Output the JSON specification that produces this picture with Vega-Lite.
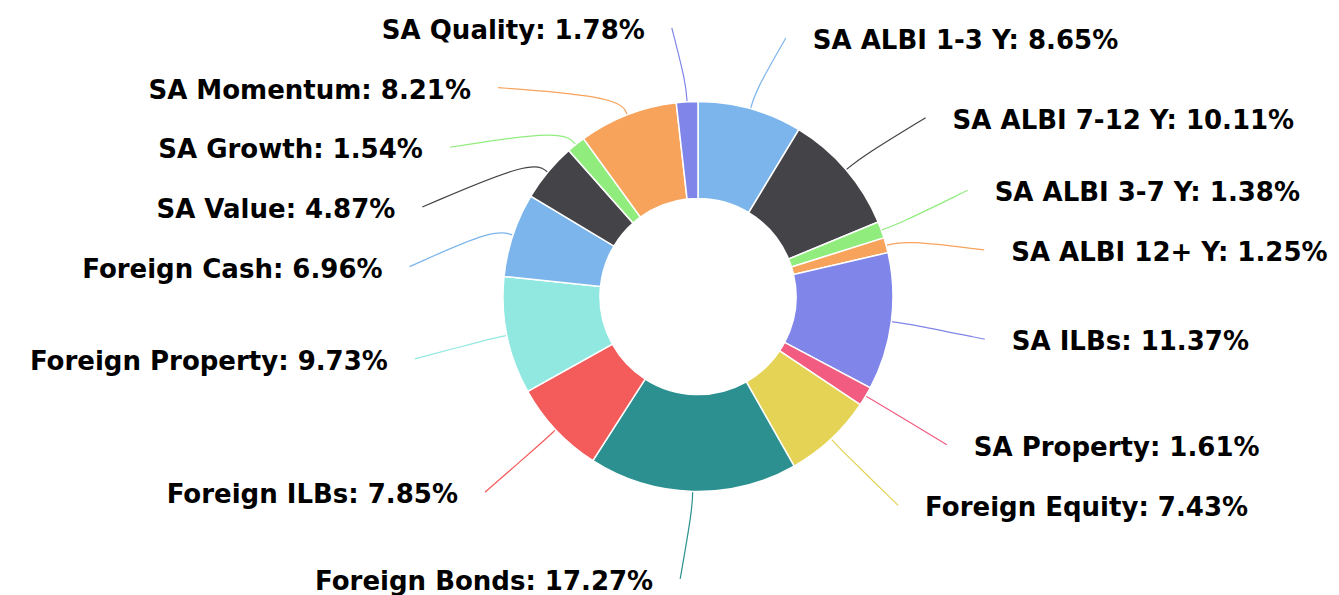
{
  "$schema": "https://vega.github.io/schema/vega-lite/v6.json",
  "width": 1339,
  "height": 595,
  "autosize": {"type": "fit", "contains": "padding"},
  "padding": 0,
  "background": "white",
  "config": {"view": {"stroke": null}},
  "data": {
    "values": [
      {"name": "SA ALBI 1-3 Y", "value": 8.65},
      {"name": "SA ALBI 7-12 Y", "value": 10.11},
      {"name": "SA ALBI 3-7 Y", "value": 1.38},
      {"name": "SA ALBI 12+ Y", "value": 1.25},
      {"name": "SA ILBs", "value": 11.37},
      {"name": "SA Property", "value": 1.61},
      {"name": "Foreign Equity", "value": 7.43},
      {"name": "Foreign Bonds", "value": 17.27},
      {"name": "Foreign ILBs", "value": 7.85},
      {"name": "Foreign Property", "value": 9.73},
      {"name": "Foreign Cash", "value": 6.96},
      {"name": "SA Value", "value": 4.87},
      {"name": "SA Growth", "value": 1.54},
      {"name": "SA Momentum", "value": 8.21},
      {"name": "SA Quality", "value": 1.78}
    ]
  },
  "transform": [
    {"window": [{"op": "row_number", "as": "idx"}]},
    {"joinaggregate": [{"op": "sum", "field": "value", "as": "tot"}]},
    {"window": [{"op": "sum", "field": "value", "as": "cum1"}], "sort": [{"field": "idx"}], "frame": [null, 0]},
    {"calculate": "(datum.cum1 - datum.value) / datum.tot", "as": "f0"},
    {"calculate": "datum.cum1 / datum.tot", "as": "f1"},
    {"calculate": "PI * (datum.f0 + datum.f1)", "as": "ang"},
    {"calculate": "sin(datum.ang) >= 0 ? 1 : -1", "as": "side"},
    {"calculate": "7 - 277 * cos(datum.ang)", "as": "ny"},
    {"window": [{"op": "row_number", "as": "rk"}], "groupby": ["side"], "sort": [{"field": "ny"}]},
    {"calculate": "datum.ny - 60 * datum.rk", "as": "t"},
    {"window": [{"op": "max", "field": "t", "as": "fmax"}], "groupby": ["side"], "sort": [{"field": "ny"}], "frame": [null, 0]},
    {"window": [{"op": "min", "field": "t", "as": "bmin"}], "groupby": ["side"], "sort": [{"field": "ny"}], "frame": [0, null]},
    {"calculate": "max(60 * datum.rk + (datum.fmax + datum.bmin) / 2, -270 + 60 * (datum.rk - 1))", "as": "ly"},
    {"calculate": "datum.side * (abs(datum.ly) > 240 ? abs(290 * sin(datum.ang)) + 10 : sqrt(max(0, 84100 - datum.ly * datum.ly)))", "as": "ex"},
    {"calculate": "datum.ex + 27 * datum.side", "as": "tx"},
    {"calculate": "datum.name + ': ' + format(datum.value, '.2f') + '%'", "as": "label"}
  ],
  "layer": [
    {
      "transform": [
        {"calculate": "[195 * sin(datum.ang), 215 * sin(datum.ang), datum.ex]", "as": "px"},
        {"calculate": "[-195 * cos(datum.ang), -215 * cos(datum.ang), datum.ly]", "as": "py"},
        {"calculate": "[0, 1, 2]", "as": "pi"},
        {"flatten": ["px", "py", "pi"]}
      ],
      "mark": {"type": "line", "interpolate": "basis", "strokeWidth": 1.2},
      "encoding": {
        "x": {"field": "px", "type": "quantitative", "scale": {"domain": [-698, 641], "nice": false, "zero": false}, "axis": null},
        "y": {"field": "py", "type": "quantitative", "scale": {"domain": [-298, 297], "reverse": true, "nice": false, "zero": false}, "axis": null},
        "detail": {"field": "name"},
        "order": {"field": "pi", "type": "quantitative"},
        "color": {
          "field": "name", "type": "nominal", "legend": null,
          "scale": {
            "domain": ["SA ALBI 1-3 Y", "SA ALBI 7-12 Y", "SA ALBI 3-7 Y", "SA ALBI 12+ Y", "SA ILBs", "SA Property", "Foreign Equity", "Foreign Bonds", "Foreign ILBs", "Foreign Property", "Foreign Cash", "SA Value", "SA Growth", "SA Momentum", "SA Quality"],
            "range": ["#7cb5ec", "#434348", "#90ed7d", "#f7a35c", "#8085e9", "#f15c80", "#e4d354", "#2b908f", "#f45b5b", "#91e8e1", "#7cb5ec", "#434348", "#90ed7d", "#f7a35c", "#8085e9"]
          }
        }
      }
    },
    {
      "mark": {"type": "arc", "outerRadius": 195, "innerRadius": 98, "stroke": "white", "strokeWidth": 1.5},
      "encoding": {
        "x": {"datum": 0, "type": "quantitative", "scale": {"domain": [-698, 641], "nice": false, "zero": false}, "axis": null},
        "y": {"datum": 0, "type": "quantitative", "scale": {"domain": [-298, 297], "reverse": true, "nice": false, "zero": false}, "axis": null},
        "theta": {"field": "f0", "type": "quantitative", "stack": null, "scale": {"domain": [0, 1], "nice": false}},
        "theta2": {"field": "f1"},
        "color": {"field": "name", "type": "nominal", "legend": null}
      }
    },
    {
      "transform": [{"filter": "datum.side > 0"}],
      "mark": {"type": "text", "align": "left", "baseline": "middle", "dy": 3, "font": "DejaVu Sans", "fontWeight": "bold", "fontSize": 26, "color": "#000000"},
      "encoding": {
        "x": {"field": "tx", "type": "quantitative", "axis": null},
        "y": {"field": "ly", "type": "quantitative", "axis": null},
        "text": {"field": "label"}
      }
    },
    {
      "transform": [{"filter": "datum.side < 0"}],
      "mark": {"type": "text", "align": "right", "baseline": "middle", "dy": 3, "font": "DejaVu Sans", "fontWeight": "bold", "fontSize": 26, "color": "#000000"},
      "encoding": {
        "x": {"field": "tx", "type": "quantitative", "axis": null},
        "y": {"field": "ly", "type": "quantitative", "axis": null},
        "text": {"field": "label"}
      }
    }
  ]
}
